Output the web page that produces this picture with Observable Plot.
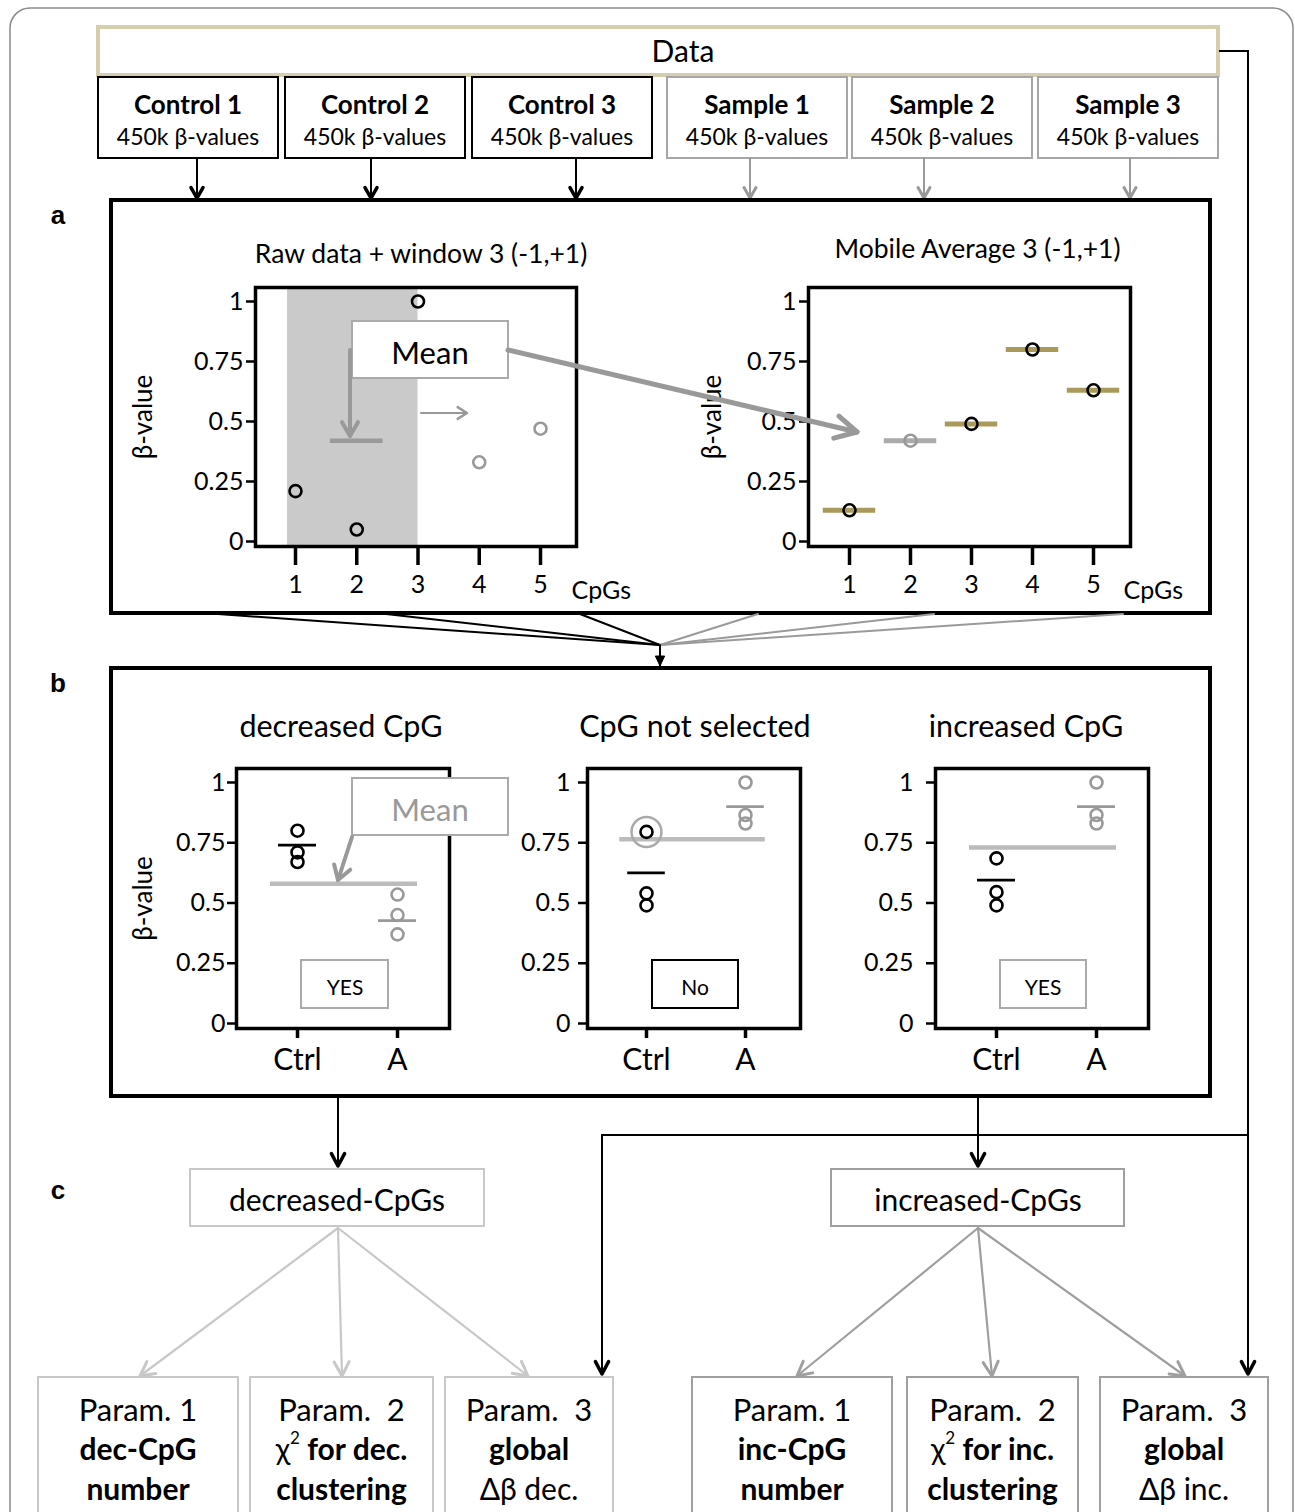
<!DOCTYPE html>
<html>
<head>
<meta charset="utf-8">
<script src="https://cdn.jsdelivr.net/npm/d3@7"></script>
<script src="https://cdn.jsdelivr.net/npm/@observablehq/plot@0.6"></script>
<style>
  html, body { margin: 0; padding: 0; background: #fff; }
  #root { position: relative; width: 1295px; height: 1512px; overflow: hidden; background: #fff; font-family: Lato, "Open Sans", sans-serif; }
  .chart { position: absolute; }
  #overlay { position: absolute; left: 0; top: 0; pointer-events: none; }
</style>
</head>
<body>
<div id="root"></div>
<script>
// ---------------- DATA ----------------
// Panel a: raw beta-values of 5 consecutive CpGs and the sliding window
const cpgs = [1, 2, 3, 4, 5];
const rawBeta = [0.21, 0.05, 1.0, 0.33, 0.47];
const rawInWindow = [true, true, true, false, false];
const windowRange = [0.87, 3.0];
const windowCenter = 2;
const windowMean = 0.42;
// Panel a: mobile average result
const mobileAvg = [0.13, 0.42, 0.49, 0.80, 0.63];
const mobileHighlightCpG = 2;
const aTitles = ["Raw data + window 3 (-1,+1)", "Mobile Average 3 (-1,+1)"];

// Panel b: three example CpGs, controls vs sample group A
const groups = ["Ctrl", "A"];
const bTitles = ["decreased CpG", "CpG not selected", "increased CpG"];
const ctrlBeta = [[0.80, 0.71, 0.67], [0.795, 0.54, 0.49], [0.685, 0.545, 0.49]];
const sampleBeta = [[0.535, 0.45, 0.37], [1.0, 0.865, 0.83], [1.0, 0.865, 0.83]];
const ctrlMean = [0.74, 0.625, 0.595];
const sampleMean = [0.427, 0.90, 0.90];
const globalMean = [0.58, 0.765, 0.73];
const ringed = [null, 0, null]; // ctrl point highlighted with a ring
const decision = ["YES", "No", "YES"];
const yTicks = [0, 0.25, 0.5, 0.75, 1];

// Text of the flow chart
const controlNames = ["Control 1", "Control 2", "Control 3"];
const sampleNames = ["Sample 1", "Sample 2", "Sample 3"];
const boxSub = "450k β-values";

// ---------------- STYLE ----------------
const TAN = "#a99a5a";
const GRAY = "#999";
const LGRAY = "#bbb";
const FONT = "Lato, 'Open Sans', sans-serif";

const root = document.getElementById("root");

function place(svg, left, top) {
  const d = document.createElement("div");
  d.className = "chart";
  d.style.left = left + "px";
  d.style.top = top + "px";
  d.appendChild(svg);
  root.appendChild(d);
}

const baseStyle = { fontFamily: FONT, fontSize: "25px", background: "transparent", overflow: "visible", maxWidth: "none", color: "black" };

// ---------- panel a, left ----------
const yDomA = [-5 / 240, 1 + 14 / 240];
const rawData = cpgs.map((c, i) => ({ x: c, y: rawBeta[i], inW: rawInWindow[i] }));
const a1 = Plot.plot({
  width: 530, height: 380,
  marginLeft: 140, marginRight: 69, marginTop: 62, marginBottom: 59,
  style: baseStyle,
  x: { domain: [1 - 40 / 61.25, 5 + 36 / 61.25] },
  y: { domain: yDomA },
  color: { type: "identity" },
  marks: [
    Plot.rect([windowRange], { x1: d => d[0], x2: d => d[1], y1: yDomA[0], y2: yDomA[1], fill: "#cacaca" }),
    Plot.ruleY([{ x: windowCenter, y: windowMean }], { y: "y", x1: d => d.x - 0.43, x2: d => d.x + 0.43, stroke: "#999", strokeWidth: 4.5 }),
    Plot.dot(rawData, { x: "x", y: "y", r: 6, strokeWidth: 2.6, stroke: d => d.inW ? "black" : GRAY }),
    Plot.frame({ stroke: "black", strokeWidth: 3.5 }),
    Plot.axisY({ ticks: yTicks, tickFormat: d => String(d), tickSize: 9, tickPadding: 3, strokeWidth: 2.5, fontSize: 25, label: null }),
    Plot.axisX({ ticks: cpgs, tickFormat: d => String(d), tickSize: 19, tickPadding: 10, strokeWidth: 3.5, fontSize: 25, label: null }),
    Plot.text(["β-value"], { frameAnchor: "left", dx: -112, rotate: -90, textAnchor: "middle", lineAnchor: "middle", fontSize: 26 }),
    Plot.text(["CpGs"], { frameAnchor: "bottom-right", textAnchor: "start", lineAnchor: "middle", dx: -5, dy: 44, fontSize: 25 }),
    Plot.text([aTitles[0]], { frameAnchor: "top", lineAnchor: "middle", dy: -33, dx: 5, fontSize: 26.5 })
  ]
});
place(a1, 115, 225);

// ---------- panel a, right ----------
const mobData = cpgs.map((c, i) => ({ x: c, y: mobileAvg[i], hl: c === mobileHighlightCpG }));
const a2 = Plot.plot({
  width: 540, height: 380,
  marginLeft: 148, marginRight: 70, marginTop: 62, marginBottom: 59,
  style: baseStyle,
  x: { domain: [1 - 41 / 61, 5 + 37 / 61] },
  y: { domain: yDomA },
  color: { type: "identity" },
  marks: [
    Plot.ruleY(mobData, { y: "y", x1: d => d.x - 0.43, x2: d => d.x + 0.43, stroke: d => d.hl ? "#aaa" : TAN, strokeWidth: 5 }),
    Plot.dot(mobData, { x: "x", y: "y", r: 6, strokeWidth: 2.6, stroke: d => d.hl ? GRAY : "black" }),
    Plot.frame({ stroke: "black", strokeWidth: 3.5 }),
    Plot.axisY({ ticks: yTicks, tickFormat: d => String(d), tickSize: 9, tickPadding: 3, strokeWidth: 2.5, fontSize: 25, label: null }),
    Plot.axisX({ ticks: cpgs, tickFormat: d => String(d), tickSize: 19, tickPadding: 10, strokeWidth: 3.5, fontSize: 25, label: null }),
    Plot.text(["β-value"], { frameAnchor: "left", dx: -96, rotate: -90, textAnchor: "middle", lineAnchor: "middle", fontSize: 26 }),
    Plot.text(["CpGs"], { frameAnchor: "bottom-right", textAnchor: "start", lineAnchor: "middle", dx: -7, dy: 44, fontSize: 25 }),
    Plot.text([aTitles[1]], { frameAnchor: "top", lineAnchor: "middle", dy: -38, dx: 8, fontSize: 26.5 })
  ]
});
place(a2, 660, 225);

// ---------- panel b ----------
const yDomB = [-5 / 241, 1 + 14 / 241];
const bLayout = [
  { left: 120, ml: 116, mr: 16, xd: [0.39, 2.52], tp: 2, tdx: -2, ylab: true },
  { left: 470, ml: 117, mr: 15, xd: [1 - 59 / 99, 2 + 55 / 99], tp: 8, tdx: 1, ylab: false },
  { left: 818, ml: 117, mr: 15, xd: [0.39, 2.52], tp: 13, tdx: -16, ylab: false }
];
bTitles.forEach((title, k) => {
  const L = bLayout[k];
  const pts = [
    ...ctrlBeta[k].map((v, i) => ({ x: 1, y: v, c: "black", ring: ringed[k] === i })),
    ...sampleBeta[k].map(v => ({ x: 2, y: v, c: GRAY, ring: false }))
  ];
  const means = [
    { x: 1, y: ctrlMean[k], c: "black" },
    { x: 2, y: sampleMean[k], c: GRAY }
  ];
  const marks = [
    Plot.ruleY([globalMean[k]], { y: d => d, x1: 0.73, x2: 2.2, stroke: LGRAY, strokeWidth: 4.5 }),
    Plot.dot(pts.filter(d => d.ring), { x: "x", y: "y", r: 15, stroke: "#aaa", strokeWidth: 2.5 }),
    Plot.dot(pts, { x: "x", y: "y", r: 6, stroke: "c", strokeWidth: 2.6 }),
    Plot.ruleY(means, { y: "y", x1: d => d.x - 0.19, x2: d => d.x + 0.19, stroke: "c", strokeWidth: 2.6 }),
    Plot.frame({ stroke: "black", strokeWidth: 3.5 }),
    Plot.axisY({ ticks: yTicks, tickFormat: d => String(d), tickSize: 9, tickPadding: L.tp, strokeWidth: 2.5, fontSize: 25, label: null }),
    Plot.axisX({ ticks: [1, 2], tickFormat: d => groups[d - 1], tickSize: 10, tickPadding: 10, strokeWidth: 3.5, fontSize: 30, label: null }),
    Plot.text([title], { frameAnchor: "top", lineAnchor: "middle", dy: -41, dx: L.tdx, fontSize: 30.5 })
  ];
  if (L.ylab) marks.push(Plot.text(["β-value"], { frameAnchor: "left", dx: -93, rotate: -90, textAnchor: "middle", lineAnchor: "middle", fontSize: 26 }));
  const p = Plot.plot({
    width: 345, height: 400,
    marginLeft: L.ml, marginRight: L.mr, marginTop: 78, marginBottom: 62,
    style: baseStyle,
    x: { domain: L.xd },
    y: { domain: yDomB },
    color: { type: "identity" },
    marks
  });
  place(p, L.left, 690);
});

// ---------------- FLOW-CHART OVERLAY ----------------
const S = [];
function rect(x, y, w, h, stroke, sw, fill = "none", rx = 0) {
  S.push(`<rect x="${x}" y="${y}" width="${w}" height="${h}" rx="${rx}" fill="${fill}" stroke="${stroke}" stroke-width="${sw}"/>`);
}
function line(x1, y1, x2, y2, stroke, sw) {
  S.push(`<line x1="${x1}" y1="${y1}" x2="${x2}" y2="${y2}" stroke="${stroke}" stroke-width="${sw}" stroke-linecap="round"/>`);
}
function path(d, stroke, sw) {
  S.push(`<path d="${d}" fill="none" stroke="${stroke}" stroke-width="${sw}"/>`);
}
function head(x1, y1, x2, y2, stroke, hsw, hl, ha, filled) {
  const ang = Math.atan2(y2 - y1, x2 - x1);
  const r = ha * Math.PI / 180;
  const p1 = [x2 - hl * Math.cos(ang - r), y2 - hl * Math.sin(ang - r)];
  const p2 = [x2 - hl * Math.cos(ang + r), y2 - hl * Math.sin(ang + r)];
  if (filled) S.push(`<path d="M${p1}L${x2},${y2}L${p2}Z" fill="${stroke}" stroke="${stroke}" stroke-width="1"/>`);
  else S.push(`<path d="M${p1}L${x2},${y2}L${p2}" fill="none" stroke="${stroke}" stroke-width="${hsw}" stroke-linecap="round" stroke-linejoin="round"/>`);
}
function arrow(x1, y1, x2, y2, stroke, sw, hsw, hl = 12, ha = 32, filled = false) {
  line(x1, y1, x2, y2, stroke, sw);
  head(x1, y1, x2, y2, stroke, hsw, hl, ha, filled);
}
function text(x, y, content, size, opts = {}) {
  const w = opts.bold ? "bold" : "normal";
  const fill = opts.fill || "black";
  const fam = opts.family || FONT;
  const anchor = opts.anchor || "middle";
  S.push(`<text x="${x}" y="${y}" font-family="${fam}" font-size="${size}" font-weight="${w}" fill="${fill}" text-anchor="${anchor}" dominant-baseline="central" style="white-space:pre">${content}</text>`);
}

// outer rounded border
rect(10, 8, 1283, 1580, "#8a8a8a", 1.5, "none", 20);

// Data box
rect(98, 27, 1120, 48, "#d5cead", 4);
text(683, 50, "Data", 30);

// Control / Sample boxes
const boxX = [98, 285, 472, 667, 852, 1038];
const arrowX = [197, 371, 576, 750, 924, 1130];
[...controlNames, ...sampleNames].forEach((name, i) => {
  const isCtrl = i < 3;
  const col = isCtrl ? "black" : "#a6a6a6";
  rect(boxX[i], 77, 180, 81, col, 2, "white");
  text(boxX[i] + 90, 104, name, 26, { bold: true });
  text(boxX[i] + 90, 136, boxSub, 23);
  arrow(arrowX[i], 158, arrowX[i], 198, isCtrl ? "black" : GRAY, 2, isCtrl ? 3.5 : 3, 12, 30);
});

// right connector from Data box
path("M1219,51 H1248 V1374", "black", 2);
head(1248, 1300, 1248, 1374, "black", 3.5, 14, 28);
path("M1248,1135 H602 V1374", "black", 2);
head(602, 1300, 602, 1374, "black", 3.5, 14, 28);

// panel a
rect(111, 200, 1099, 413, "black", 4);
text(58, 215, "a", 26, { bold: true, family: "'Liberation Sans', Arial, sans-serif" });

// converging lines a -> b
[218, 386, 580].forEach(x => line(x, 614, 660, 645, "black", 2));
[758, 934, 1123].forEach(x => line(x, 614, 660, 645, "#9a9a9a", 2));
arrow(660, 645, 660, 666, "black", 2, 2, 11, 25, true);

// panel b
rect(111, 668, 1099, 428, "black", 4);
text(58, 683, "b", 26, { bold: true, family: "'Liberation Sans', Arial, sans-serif" });

// arrows b -> c
arrow(338, 1097, 338, 1166, "black", 2, 3.5, 14, 28);
arrow(978, 1097, 978, 1166, "black", 2, 3.5, 14, 28);

// panel c
text(58, 1190, "c", 26, { bold: true, family: "'Liberation Sans', Arial, sans-serif" });
const DEC = "#c8c8c8", INC = "#9f9f9f";
rect(190, 1169, 294, 57, DEC, 2, "white");
text(337, 1199, "decreased-CpGs", 30);
rect(831, 1169, 293, 57, INC, 2, "white");
text(978, 1199, "increased-CpGs", 30);

[140, 342, 528].forEach(x => arrow(338, 1228, x, 1376, DEC, 2.2, 3, 16, 28));
[797, 992, 1185].forEach(x => arrow(978, 1228, x, 1376, INC, 2.2, 3, 16, 28));

const paramBoxes = [
  { x: 38, w: 200, c: DEC, l1: "Param. 1", l2: "<tspan font-weight='bold'>dec-CpG</tspan>", l3: "<tspan font-weight='bold'>number</tspan>" },
  { x: 250, w: 183, c: DEC, l1: "Param.  2", l2: "χ<tspan font-size='17' dy='-11'>2</tspan><tspan dy='11' font-weight='bold'> for dec.</tspan>", l3: "<tspan font-weight='bold'>clustering</tspan>" },
  { x: 445, w: 168, c: DEC, l1: "Param.  3", l2: "<tspan font-weight='bold'>global</tspan>", l3: "Δβ dec." },
  { x: 692, w: 200, c: INC, l1: "Param. 1", l2: "<tspan font-weight='bold'>inc-CpG</tspan>", l3: "<tspan font-weight='bold'>number</tspan>" },
  { x: 907, w: 171, c: INC, l1: "Param.  2", l2: "χ<tspan font-size='17' dy='-11'>2</tspan><tspan dy='11' font-weight='bold'> for inc.</tspan>", l3: "<tspan font-weight='bold'>clustering</tspan>" },
  { x: 1100, w: 168, c: INC, l1: "Param.  3", l2: "<tspan font-weight='bold'>global</tspan>", l3: "Δβ inc." }
];
paramBoxes.forEach(b => {
  rect(b.x, 1377, b.w, 200, b.c, 2, "none");
  const cx = b.x + b.w / 2;
  text(cx, 1409, b.l1, 31);
  text(cx, 1448, b.l2, 30);
  text(cx, 1488, b.l3, 30);
});

// annotations panel a
rect(352, 321, 156, 57, "#aaa", 2, "white");
text(430, 352, "Mean", 31);
arrow(350, 350, 350, 436, GRAY, 4, 4, 16, 30);
arrow(421, 413, 467, 413, GRAY, 2.2, 2.5, 11, 32);
arrow(508, 350, 857, 432, GRAY, 5, 5, 24, 28);

// annotations panel b
rect(352, 778, 156, 57, "#aaa", 2, "white");
text(430, 809, "Mean", 31, { fill: "#999" });
arrow(352, 837, 338, 880, GRAY, 4, 4, 16, 32);
rect(301, 960, 87, 48, "#aaa", 2, "white");
text(345, 986, decision[0], 21);
rect(652, 960, 86, 48, "black", 2, "white");
text(695, 986, decision[1], 21);
rect(1000, 960, 86, 48, "#aaa", 2, "white");
text(1043, 986, decision[2], 21);

const ov = document.createElementNS("http://www.w3.org/2000/svg", "svg");
ov.setAttribute("id", "overlay");
ov.setAttribute("width", 1295);
ov.setAttribute("height", 1512);
ov.innerHTML = S.join("\n");
root.appendChild(ov);
</script>
</body>
</html>
